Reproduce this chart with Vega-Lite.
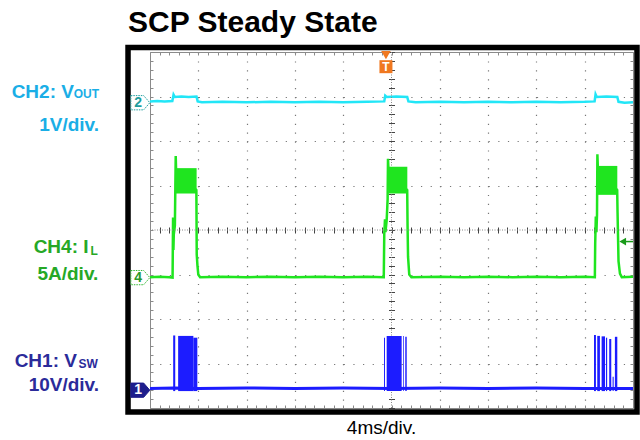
{
  "$schema": "https://vega.github.io/schema/vega-lite/v6.json",
  "width": 483,
  "height": 356,
  "autosize": {"type": "none"},
  "padding": {"left": 150, "top": 52, "right": 7, "bottom": 32},
  "background": "white",
  "config": {"view": {"stroke": null}, "font": "Liberation Sans"},
  "data": {"values": [{}]},
  "datasets": {
    "ch2": [{"t":0,"v":6.89},{"t":0.6,"v":6.9},{"t":1.2,"v":6.89},{"t":1.85,"v":6.9},{"t":1.95,"v":7.04},{"t":2.05,"v":6.99},{"t":2.6,"v":7.0},{"t":3.2,"v":6.99},{"t":3.85,"v":7.0},{"t":3.95,"v":6.89},{"t":4.3,"v":6.87},{"t":6,"v":6.88},{"t":8,"v":6.87},{"t":10,"v":6.88},{"t":12,"v":6.87},{"t":14,"v":6.88},{"t":16,"v":6.87},{"t":18,"v":6.88},{"t":19.4,"v":6.89},{"t":19.48,"v":7.02},{"t":19.6,"v":6.99},{"t":20.4,"v":7.0},{"t":21.3,"v":6.99},{"t":21.4,"v":6.89},{"t":22,"v":6.87},{"t":24,"v":6.88},{"t":26,"v":6.87},{"t":28,"v":6.88},{"t":30,"v":6.87},{"t":32,"v":6.88},{"t":34,"v":6.87},{"t":36,"v":6.88},{"t":36.82,"v":6.89},{"t":36.9,"v":7.05},{"t":37.0,"v":6.99},{"t":37.8,"v":7.0},{"t":38.7,"v":6.99},{"t":38.8,"v":6.88},{"t":39.3,"v":6.86},{"t":40,"v":6.87}],
    "ch4": [{"t":0,"v":2.94},{"t":0.8,"v":2.95},{"t":1.6,"v":2.94},{"t":1.87,"v":2.93},{"t":1.89,"v":3.6},{"t":1.91,"v":4.28},{"t":1.94,"v":3.55},{"t":1.97,"v":3.9},{"t":2.06,"v":4.1},{"t":2.1,"v":5.0},{"t":2.13,"v":5.66},{"t":2.16,"v":5.35},{"t":3.0,"v":5.1},{"t":3.84,"v":4.9},{"t":3.87,"v":3.45},{"t":3.93,"v":3.2},{"t":4.0,"v":3.0},{"t":4.15,"v":2.94},{"t":6,"v":2.95},{"t":8,"v":2.94},{"t":10,"v":2.95},{"t":12,"v":2.94},{"t":14,"v":2.95},{"t":16,"v":2.94},{"t":18,"v":2.95},{"t":19.36,"v":2.94},{"t":19.4,"v":3.9},{"t":19.46,"v":4.24},{"t":19.5,"v":3.95},{"t":19.6,"v":4.22},{"t":19.68,"v":4.7},{"t":19.71,"v":5.6},{"t":19.75,"v":5.35},{"t":20.5,"v":5.1},{"t":21.3,"v":4.9},{"t":21.33,"v":4.1},{"t":21.37,"v":3.4},{"t":21.47,"v":3.0},{"t":21.65,"v":2.94},{"t":24,"v":2.95},{"t":26,"v":2.94},{"t":28,"v":2.95},{"t":30,"v":2.94},{"t":32,"v":2.95},{"t":34,"v":2.94},{"t":36,"v":2.95},{"t":36.84,"v":2.94},{"t":36.87,"v":3.7},{"t":36.92,"v":4.3},{"t":36.97,"v":3.95},{"t":37.02,"v":4.35},{"t":37.05,"v":5.7},{"t":37.09,"v":5.4},{"t":38.0,"v":5.1},{"t":38.69,"v":4.9},{"t":38.72,"v":4.4},{"t":38.8,"v":3.3},{"t":38.92,"v":3.02},{"t":39.07,"v":2.94},{"t":40,"v":2.95}],
    "bands": [{"t0":2.15,"t1":3.86,"lo":4.82,"hi":5.39},{"t0":19.74,"t1":21.31,"lo":4.82,"hi":5.42},{"t0":37.08,"t1":38.7,"lo":4.79,"hi":5.44}],
    "ch1": [{"t":0,"v":0.44},{"t":2,"v":0.45},{"t":4,"v":0.44},{"t":8,"v":0.45},{"t":12,"v":0.44},{"t":16,"v":0.45},{"t":20,"v":0.44},{"t":24,"v":0.45},{"t":28,"v":0.44},{"t":32,"v":0.45},{"t":36,"v":0.44},{"t":40,"v":0.44}],
    "bursts": [{"t0":1.92,"t1":2.09,"lo":0.38,"hi":1.63},{"t0":2.33,"t1":3.59,"lo":0.38,"hi":1.62},{"t0":3.59,"t1":3.92,"lo":0.38,"hi":1.58},{"t0":19.38,"t1":19.46,"lo":0.38,"hi":1.58},{"t0":19.6,"t1":20.84,"lo":0.38,"hi":1.62},{"t0":20.97,"t1":21.03,"lo":0.38,"hi":1.62},{"t0":21.14,"t1":21.26,"lo":0.38,"hi":1.6},{"t0":36.77,"t1":36.93,"lo":0.38,"hi":1.64},{"t0":37.04,"t1":37.26,"lo":0.38,"hi":1.62},{"t0":37.4,"t1":37.68,"lo":0.38,"hi":1.61},{"t0":37.76,"t1":37.86,"lo":0.38,"hi":1.58},{"t0":38.03,"t1":38.2,"lo":0.38,"hi":1.55},{"t0":38.31,"t1":38.4,"lo":0.38,"hi":0.7},{"t0":38.5,"t1":38.7,"lo":0.38,"hi":1.6}]
  },
  "resolve": {"axis": {"x": "independent", "y": "independent"}},
  "layer": [
    {
      "data": {"name": "ch2"},
      "mark": {"type": "line", "color": "#22e6f7", "strokeWidth": 2.5},
      "encoding": {
        "x": {"field": "t", "type": "quantitative", "scale": {"domain": [0, 40], "nice": false, "zero": false},
          "axis": {"orient": "bottom", "values": [0,0.8,1.6,2.4,3.2,4,4.8,5.6,6.4,7.2,8,8.8,9.6,10.4,11.2,12,12.8,13.6,14.4,15.2,16,16.8,17.6,18.4,19.2,20,20.8,21.6,22.4,23.2,24,24.8,25.6,26.4,27.2,28,28.8,29.6,30.4,31.2,32,32.8,33.6,34.4,35.2,36,36.8,37.6,38.4,39.2,40],
            "labels": false, "title": "4ms/div.", "titleFontSize": 19, "titleFontWeight": "normal", "titleColor": "black", "titleFont": "Liberation Sans", "titleX": 231, "titleY": 25, "titleBaseline": "alphabetic", "titleAlign": "center",
            "domain": true, "domainColor": "#8a8a8a", "domainWidth": 1,
            "ticks": true, "tickColor": "#8a8a8a", "tickSize": -3, "tickWidth": 1,
            "grid": true, "gridColor": "#777777", "gridWidth": 1.2, "gridDash": [1.2, 7.7],
            "gridOpacity": {"condition": {"test": "datum.value % 4 === 0 && datum.value > 0 && datum.value < 40 && datum.value !== 20", "value": 1}, "value": 0}}},
        "y": {"field": "v", "type": "quantitative", "scale": {"domain": [0, 8], "nice": false, "zero": false},
          "axis": {"orient": "left", "values": [0,0.2,0.4,0.6,0.8,1,1.2,1.4,1.6,1.8,2,2.2,2.4,2.6,2.8,3,3.2,3.4,3.6,3.8,4,4.2,4.4,4.6,4.8,5,5.2,5.4,5.6,5.8,6,6.2,6.4,6.6,6.8,7,7.2,7.4,7.6,7.8,8],
            "labels": false, "title": null, "minExtent": 0, "maxExtent": 0,
            "domain": true, "domainColor": "#8a8a8a", "domainWidth": 1,
            "ticks": true, "tickColor": "#8a8a8a", "tickSize": -3, "tickWidth": 1,
            "grid": true, "gridColor": "#777777", "gridWidth": 1.2, "gridDash": [1.2, 8.46],
            "gridOpacity": {"condition": {"test": "datum.value % 1 === 0 && datum.value > 0 && datum.value < 8 && datum.value !== 4", "value": 1}, "value": 0}}}
      }
    },
    {
      "data": {"name": "ch4"},
      "mark": {"type": "line", "color": "#1fe51f", "strokeWidth": 2.5},
      "encoding": {
        "x": {"field": "t", "type": "quantitative",
          "axis": {"orient": "top", "values": [0,0.8,1.6,2.4,3.2,4,4.8,5.6,6.4,7.2,8,8.8,9.6,10.4,11.2,12,12.8,13.6,14.4,15.2,16,16.8,17.6,18.4,19.2,20,20.8,21.6,22.4,23.2,24,24.8,25.6,26.4,27.2,28,28.8,29.6,30.4,31.2,32,32.8,33.6,34.4,35.2,36,36.8,37.6,38.4,39.2,40],
            "labels": false, "title": null, "grid": false, "minExtent": 0, "maxExtent": 0,
            "domain": true, "domainColor": "#8a8a8a", "domainWidth": 1,
            "ticks": true, "tickColor": "#8a8a8a", "tickSize": -3, "tickWidth": 1}},
        "y": {"field": "v", "type": "quantitative",
          "axis": {"orient": "right", "values": [0,0.2,0.4,0.6,0.8,1,1.2,1.4,1.6,1.8,2,2.2,2.4,2.6,2.8,3,3.2,3.4,3.6,3.8,4,4.2,4.4,4.6,4.8,5,5.2,5.4,5.6,5.8,6,6.2,6.4,6.6,6.8,7,7.2,7.4,7.6,7.8,8],
            "labels": false, "title": null, "grid": false, "minExtent": 0, "maxExtent": 0,
            "domain": true, "domainColor": "#8a8a8a", "domainWidth": 1,
            "ticks": true, "tickColor": "#8a8a8a", "tickSize": -3, "tickWidth": 1}}
      }
    },
    {
      "mark": {"type": "rule", "color": "#888888", "strokeWidth": 1, "strokeDash": [1, 1.5]},
      "encoding": {"x": {"datum": 20, "type": "quantitative", "axis": null}}
    },
    {
      "mark": {"type": "rule", "color": "#888888", "strokeWidth": 1, "strokeDash": [1, 1.5]},
      "encoding": {"y": {"datum": 4, "type": "quantitative", "axis": null}}
    },
    {
      "data": {"name": "ch1"},
      "mark": {"type": "line", "color": "#1c1cff", "strokeWidth": 3},
      "encoding": {
        "x": {"field": "t", "type": "quantitative",
          "axis": {"orient": "bottom", "offset": -181, "values": [0,0.8,1.6,2.4,3.2,4,4.8,5.6,6.4,7.2,8,8.8,9.6,10.4,11.2,12,12.8,13.6,14.4,15.2,16,16.8,17.6,18.4,19.2,20,20.8,21.6,22.4,23.2,24,24.8,25.6,26.4,27.2,28,28.8,29.6,30.4,31.2,32,32.8,33.6,34.4,35.2,36,36.8,37.6,38.4,39.2,40],
            "labels": false, "title": null, "grid": false, "domain": false, "minExtent": 0, "maxExtent": 0,
            "ticks": true, "tickColor": "#444444", "tickSize": 6, "tickWidth": 1}},
        "y": {"field": "v", "type": "quantitative",
          "axis": {"orient": "left", "offset": -244.5, "values": [0,0.2,0.4,0.6,0.8,1,1.2,1.4,1.6,1.8,2,2.2,2.4,2.6,2.8,3,3.2,3.4,3.6,3.8,4,4.2,4.4,4.6,4.8,5,5.2,5.4,5.6,5.8,6,6.2,6.4,6.6,6.8,7,7.2,7.4,7.6,7.8,8],
            "labels": false, "title": null, "grid": false, "domain": false, "minExtent": 0, "maxExtent": 0,
            "ticks": true, "tickColor": "#444444", "tickSize": 6, "tickWidth": 1}}
      }
    },
    {
      "data": {"name": "bands"},
      "mark": {"type": "rect", "color": "#1fe51f"},
      "encoding": {
        "x": {"field": "t0", "type": "quantitative", "axis": null},
        "x2": {"field": "t1"},
        "y": {"field": "lo", "type": "quantitative", "axis": null},
        "y2": {"field": "hi"}
      }
    },
    {
      "data": {"name": "bursts"},
      "mark": {"type": "rect", "color": "#1c1cff"},
      "encoding": {
        "x": {"field": "t0", "type": "quantitative", "axis": null},
        "x2": {"field": "t1"},
        "y": {"field": "lo", "type": "quantitative", "axis": null},
        "y2": {"field": "hi"}
      }
    },
    {
      "mark": {"type": "rect", "fill": "transparent", "stroke": "black", "strokeWidth": 5.5},
      "encoding": {
        "x": {"datum": -1.82, "type": "quantitative", "axis": null},
        "x2": {"datum": 40.33},
        "y": {"datum": 8.1, "type": "quantitative", "axis": null},
        "y2": {"datum": -0.09}
      }
    },
    {
      "mark": {"type": "text", "text": "SCP Steady State", "align": "left", "baseline": "alphabetic", "fontSize": 30, "fontWeight": "bold", "color": "black", "font": "Liberation Sans"},
      "encoding": {"x": {"datum": -1.82, "type": "quantitative", "axis": null}, "y": {"datum": 8.45, "type": "quantitative", "axis": null}}
    },
    {
      "mark": {"type": "point", "shape": "M-1,-0.75L0.35,-0.75L1,0L0.35,0.75L-1,0.75Z", "size": 361, "filled": true, "fill": "white", "stroke": "#1f9e9e", "strokeWidth": 1, "strokeDash": [1.5, 1], "opacity": 1},
      "encoding": {"x": {"datum": -0.8, "type": "quantitative", "axis": null}, "y": {"datum": 6.86, "type": "quantitative", "axis": null}}
    },
    {
      "mark": {"type": "text", "text": "2", "fontSize": 14, "fontWeight": "bold", "color": "#1f9e9e", "baseline": "middle", "align": "center"},
      "encoding": {"x": {"datum": -0.98, "type": "quantitative", "axis": null}, "y": {"datum": 6.86, "type": "quantitative", "axis": null}}
    },
    {
      "mark": {"type": "point", "shape": "M-1,-0.75L0.35,-0.75L1,0L0.35,0.75L-1,0.75Z", "size": 361, "filled": true, "fill": "white", "stroke": "#33b833", "strokeWidth": 1, "strokeDash": [1.5, 1], "opacity": 1},
      "encoding": {"x": {"datum": -0.8, "type": "quantitative", "axis": null}, "y": {"datum": 2.93, "type": "quantitative", "axis": null}}
    },
    {
      "mark": {"type": "text", "text": "4", "fontSize": 14, "fontWeight": "bold", "color": "#2a9a2a", "baseline": "middle", "align": "center"},
      "encoding": {"x": {"datum": -0.98, "type": "quantitative", "axis": null}, "y": {"datum": 2.93, "type": "quantitative", "axis": null}}
    },
    {
      "mark": {"type": "point", "shape": "M-1,-0.75L0.35,-0.75L1,0L0.35,0.75L-1,0.75Z", "size": 361, "filled": true, "fill": "#1e1e8c", "stroke": "#1e1e8c", "strokeWidth": 1, "opacity": 1},
      "encoding": {"x": {"datum": -0.8, "type": "quantitative", "axis": null}, "y": {"datum": 0.4, "type": "quantitative", "axis": null}}
    },
    {
      "mark": {"type": "text", "text": "1", "fontSize": 14, "fontWeight": "bold", "color": "white", "baseline": "middle", "align": "center"},
      "encoding": {"x": {"datum": -0.98, "type": "quantitative", "axis": null}, "y": {"datum": 0.4, "type": "quantitative", "axis": null}}
    },
    {
      "mark": {"type": "point", "shape": "triangle-down", "size": 90, "filled": true, "color": "#f07820", "opacity": 1},
      "encoding": {"x": {"datum": 19.54, "type": "quantitative", "axis": null}, "y": {"datum": 7.93, "type": "quantitative", "axis": null}}
    },
    {
      "mark": {"type": "point", "shape": "square", "size": 169, "filled": true, "color": "#f07820", "opacity": 1},
      "encoding": {"x": {"datum": 19.54, "type": "quantitative", "axis": null}, "y": {"datum": 7.67, "type": "quantitative", "axis": null}}
    },
    {
      "mark": {"type": "text", "text": "T", "fontSize": 12, "fontWeight": "bold", "color": "white", "baseline": "middle", "align": "center"},
      "encoding": {"x": {"datum": 19.54, "type": "quantitative", "axis": null}, "y": {"datum": 7.67, "type": "quantitative", "axis": null}}
    },
    {
      "mark": {"type": "point", "shape": "triangle-left", "size": 60, "filled": true, "color": "#1a9a1a", "opacity": 1},
      "encoding": {"x": {"datum": 39.15, "type": "quantitative", "axis": null}, "y": {"datum": 3.74, "type": "quantitative", "axis": null}}
    },
    {
      "mark": {"type": "rule", "color": "#1a9a1a", "strokeWidth": 1.5},
      "encoding": {"x": {"datum": 39.3, "type": "quantitative", "axis": null}, "x2": {"datum": 40}, "y": {"datum": 3.74, "type": "quantitative", "axis": null}}
    },
    {
      "mark": {"type": "text", "text": "CH2: V", "align": "right", "baseline": "alphabetic", "fontSize": 19, "fontWeight": "bold", "color": "#1aaee6"},
      "encoding": {"x": {"datum": -6.3, "type": "quantitative", "axis": null}, "y": {"datum": 6.973, "type": "quantitative", "axis": null}}
    },
    {
      "mark": {"type": "text", "text": "OUT", "align": "right", "baseline": "alphabetic", "fontSize": 12, "fontWeight": "bold", "color": "#1aaee6"},
      "encoding": {"x": {"datum": -4.22, "type": "quantitative", "axis": null}, "y": {"datum": 6.96, "type": "quantitative", "axis": null}}
    },
    {
      "mark": {"type": "text", "text": "1V/div.", "align": "right", "baseline": "alphabetic", "fontSize": 19, "fontWeight": "bold", "color": "#1aaee6"},
      "encoding": {"x": {"datum": -4.22, "type": "quantitative", "axis": null}, "y": {"datum": 6.225, "type": "quantitative", "axis": null}}
    },
    {
      "mark": {"type": "text", "text": "CH4: I", "align": "right", "baseline": "alphabetic", "fontSize": 19, "fontWeight": "bold", "color": "#26a826"},
      "encoding": {"x": {"datum": -5.09, "type": "quantitative", "axis": null}, "y": {"datum": 3.476, "type": "quantitative", "axis": null}}
    },
    {
      "mark": {"type": "text", "text": "L", "align": "right", "baseline": "alphabetic", "fontSize": 12, "fontWeight": "bold", "color": "#26a826"},
      "encoding": {"x": {"datum": -4.31, "type": "quantitative", "axis": null}, "y": {"datum": 3.44, "type": "quantitative", "axis": null}}
    },
    {
      "mark": {"type": "text", "text": "5A/div.", "align": "right", "baseline": "alphabetic", "fontSize": 19, "fontWeight": "bold", "color": "#26a826"},
      "encoding": {"x": {"datum": -4.28, "type": "quantitative", "axis": null}, "y": {"datum": 2.876, "type": "quantitative", "axis": null}}
    },
    {
      "mark": {"type": "text", "text": "CH1: V", "align": "right", "baseline": "alphabetic", "fontSize": 19, "fontWeight": "bold", "color": "#2b2b9a"},
      "encoding": {"x": {"datum": -6.05, "type": "quantitative", "axis": null}, "y": {"datum": 0.915, "type": "quantitative", "axis": null}}
    },
    {
      "mark": {"type": "text", "text": "SW", "align": "right", "baseline": "alphabetic", "fontSize": 12, "fontWeight": "bold", "color": "#2b2b9a"},
      "encoding": {"x": {"datum": -4.31, "type": "quantitative", "axis": null}, "y": {"datum": 0.892, "type": "quantitative", "axis": null}}
    },
    {
      "mark": {"type": "text", "text": "10V/div.", "align": "right", "baseline": "alphabetic", "fontSize": 19, "fontWeight": "bold", "color": "#2b2b9a"},
      "encoding": {"x": {"datum": -4.22, "type": "quantitative", "axis": null}, "y": {"datum": 0.382, "type": "quantitative", "axis": null}}
    }
  ]
}
